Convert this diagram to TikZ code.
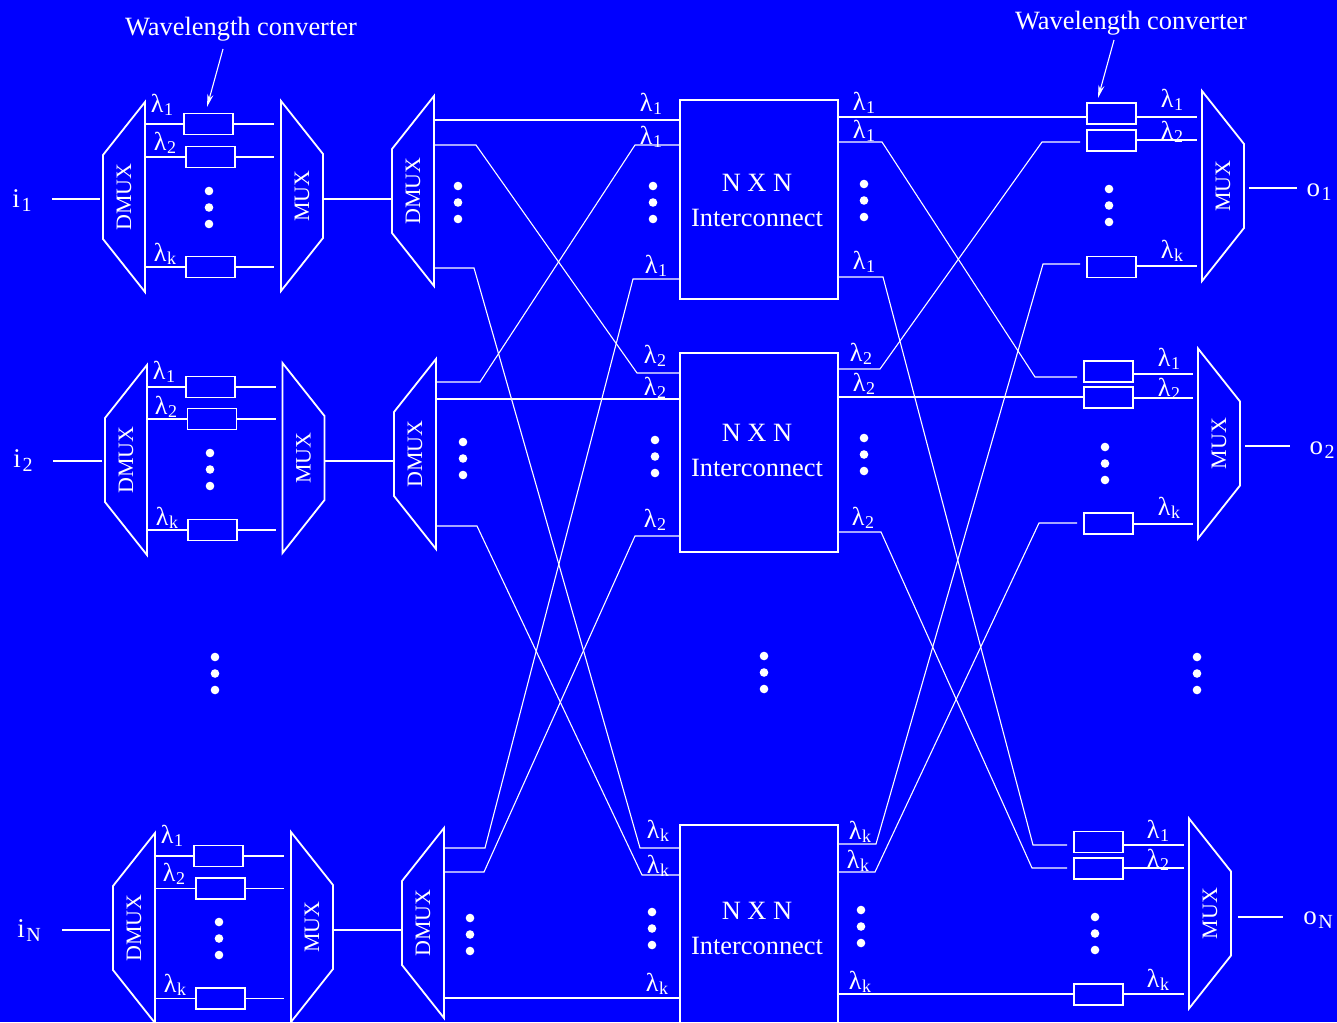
\documentclass[tikz,border=0pt]{standalone}
\usepackage{fontspec}
\setmainfont{Liberation Serif}
\usetikzlibrary{arrows.meta}
\definecolor{bgblue}{RGB}{0,0,255}
\newcommand\lamsub[1]{λ\kern0.5pt\raisebox{-3pt}{\fontsize{18}{18}\selectfont #1}}
\newcommand\isub[2]{#1\kern1.5pt\raisebox{-4pt}{\fontsize{20}{20}\selectfont #2}}
\tikzset{
 wire/.style={draw=white, line width=1.1pt},
 trap/.style={draw=white, line width=1.8pt, line join=miter},
 conv/.style={draw=white, line width=1.8pt, minimum width=49pt, minimum height=21pt, inner sep=0pt},
 ic/.style={draw=white, line width=1.6pt, minimum width=158pt, minimum height=199pt, inner sep=0pt},
 ictxt/.style={text=white, align=center, inner sep=0pt, font=\fontsize{26.4}{35}\selectfont},
 lab/.style={text=white, inner sep=0pt, font=\fontsize{26}{26}\selectfont},
 iolab/.style={text=white, inner sep=0pt, font=\fontsize{27}{27}\selectfont},
 devtxt/.style={text=white, inner sep=0pt, rotate=90, font=\fontsize{22}{22}\selectfont},
 wltxt/.style={text=white, inner sep=0pt, font=\fontsize{26.4}{26.4}\selectfont},
 pointer/.style={draw=white, line width=1.1pt, -{Stealth[length=13pt,width=6pt]}},
 dmuxpic/.pic={\draw[trap] (21,-95) -- (-21,-42) -- (-21,42) -- (21,95) -- cycle;
   \node[devtxt] (-t) at (0,0) {DMUX};
   \coordinate (-in) at (-21,0); \coordinate (-out) at (21,0);},
 muxpic/.pic={\draw[trap] (-21,-95) -- (21,-42) -- (21,42) -- (-21,95) -- cycle;
   \node[devtxt] (-t) at (0,0) {MUX};
   \coordinate (-in) at (-21,0); \coordinate (-out) at (21,0);},
}
\begin{document}
\begin{tikzpicture}[x=1pt,y=-1pt]
\useasboundingbox (0,0) rectangle (1337,1022);
\fill[bgblue] (0,0) rectangle (1337,1022);

% ---------- left input stages ----------
\pic (da1) at (124,197) {dmuxpic};
\pic (ma1) at (302,196) {muxpic};
\pic (db1) at (413,191) {dmuxpic};
\pic (da2) at (126,460) {dmuxpic};
\pic (ma2) at (303.5,458) {muxpic};
\pic (db2) at (415,454) {dmuxpic};
\pic (daN) at (134,928) {dmuxpic};
\pic (maN) at (312,927) {muxpic};
\pic (dbN) at (423,923) {dmuxpic};

\node[conv] (ca11) at (208.5,124) {};
\node[conv] (ca12) at (210.5,157) {};
\node[conv] (ca1k) at (210.5,267) {};
\node[conv] (ca21) at (210.5,387) {};
\node[conv] (ca22) at (212,419) {};
\node[conv] (ca2k) at (212.5,530) {};
\node[conv] (caN1) at (218.5,856) {};
\node[conv] (caN2) at (220.5,888.5) {};
\node[conv] (caNk) at (220.5,998.5) {};

\foreach \r in {1,2,N}{
  \foreach \c in {1,2,k}{
    \draw[wire] (da\r-out |- ca\r\c) -- (ca\r\c);
    \draw[wire, shorten >=7pt] (ca\r\c) -- (ma\r-in |- ca\r\c);
  }
}

\coordinate (in1) at (52,199);
\coordinate (in2) at (53,461);
\coordinate (inN) at (62,930);
\draw[wire, shorten >=3pt] (in1) -- (da1-in |- in1);
\draw[wire, shorten >=3pt] (in2) -- (da2-in |- in2);
\draw[wire, shorten >=3pt] (inN) -- (daN-in |- inN);
\draw[wire] (ma1-out |- in1) -- (db1-in |- in1);
\draw[wire] (ma2-out |- in2) -- (db2-in |- in2);
\draw[wire] (maN-out |- inN) -- (dbN-in |- inN);

\node[iolab] (il1) at (22,201) {\isub{i}{1}};
\node[iolab] (il2) at (23,461) {\isub{i}{2}};
\node[iolab] (ilN) at (29,931) {\isub{i}{N}};

% ---------- interconnects ----------
\node[ic] (b1) at (759,199.5) {};
\node[ic] (b2) at (759,452.5) {};
\node[ic] (bN) at (759,924.5) {};
\node[ictxt] (t1) at (757,200) {N X N\\Interconnect};
\node[ictxt] (t2) at (757,450) {N X N\\Interconnect};
\node[ictxt] (tN) at (757,928) {N X N\\Interconnect};

% ports
\coordinate (db1o1) at (434,120);
\coordinate (db1o2) at (434,145);
\coordinate (db1ok) at (434,268);
\coordinate (db2o1) at (436,382);
\coordinate (db2o2) at (436,399);
\coordinate (db2ok) at (436,526);
\coordinate (dbNo1) at (444,848);
\coordinate (dbNo2) at (444,872);
\coordinate (dbNok) at (444,998);
\coordinate (b1i1) at (680,120);
\coordinate (b1i2) at (680,145);
\coordinate (b1i3) at (680,279);
\coordinate (b2i1) at (680,373);
\coordinate (b2i2) at (680,399);
\coordinate (b2i3) at (680,536);
\coordinate (bNi1) at (680,848);
\coordinate (bNi2) at (680,875);
\coordinate (bNi3) at (680,998);

\draw[wire] (db1o1) -- (b1i1);
\draw[wire] (db1o2) -- (476,145) -- (637,373) -- (b2i1);
\draw[wire] (db1ok) -- (474,268) -- (640,848) -- (bNi1);
\draw[wire] (db2o1) -- (480,382) -- (635,145) -- (b1i2);
\draw[wire] (db2o2) -- (b2i2);
\draw[wire] (db2ok) -- (477,526) -- (642,875) -- (bNi2);
\draw[wire] (dbNo1) -- (485,848) -- (633,279) -- (b1i3);
\draw[wire] (dbNo2) -- (484,872) -- (635,536) -- (b2i3);
\draw[wire] (dbNok) -- (bNi3);

% ---------- output stages ----------
\node[conv] (c11) at (1111.5,113.5) {};
\node[conv] (c12) at (1111.5,140.5) {};
\node[conv] (c1k) at (1111.5,267) {};
\node[conv] (c21) at (1108.5,371.5) {};
\node[conv] (c22) at (1108.5,397.5) {};
\node[conv] (c2k) at (1108.5,523.5) {};
\node[conv] (cN1) at (1098.5,842) {};
\node[conv] (cN2) at (1098.5,868.5) {};
\node[conv] (cNk) at (1098.5,994.5) {};

\coordinate (b1o1) at (838,117);
\coordinate (b1o2) at (838,142);
\coordinate (b1o3) at (838,277);
\coordinate (b2o1) at (838,369);
\coordinate (b2o2) at (838,397);
\coordinate (b2o3) at (838,532);
\coordinate (bNo1) at (838,844);
\coordinate (bNo2) at (838,872);
\coordinate (bNo3) at (838,994);

% bend points near the output converters
\coordinate (k11) at (1087,117);
\coordinate (k12) at (1042,142);
\coordinate (k1k) at (1043,264);
\coordinate (k21) at (1035,377);
\coordinate (k22) at (1084,397);
\coordinate (k2k) at (1039,523);
\coordinate (kN1) at (1033,845);
\coordinate (kN2) at (1032,868);
\coordinate (kNk) at (1074,994);

\draw[wire] (b1o1) -- (k11);
\draw[wire, shorten >=6pt] (b1o2) -- (882,142) -- (k21) -- (c21.west |- k21);
\draw[wire, shorten >=6pt] (b1o3) -- (883,277) -- (kN1) -- (cN1.west |- kN1);
\draw[wire, shorten >=6pt] (b2o1) -- (880,369) -- (k12) -- (c12.west |- k12);
\draw[wire] (b2o2) -- (k22);
\draw[wire, shorten >=6pt] (b2o3) -- (881,532) -- (kN2) -- (cN2.west |- kN2);
\draw[wire, shorten >=6pt] (bNo1) -- (876,844) -- (k1k) -- (c1k.west |- k1k);
\draw[wire, shorten >=6pt] (bNo2) -- (875,872) -- (k2k) -- (c2k.west |- k2k);
\draw[wire] (bNo3) -- (kNk);

\pic (mc1) at (1223,186) {muxpic};
\pic (mc2) at (1219,443.5) {muxpic};
\pic (mcN) at (1210,913.5) {muxpic};

\foreach \r/\c/\yy in {1/1/117, 1/2/140, 1/k/266, 2/1/374, 2/2/398, 2/k/524, N/1/845, N/2/868, N/k/994}{
    \draw[wire, shorten >=5pt] (c\r\c.east |- 0,\yy) -- (mc\r-in |- 0,\yy);
}

\coordinate (out1) at (1297,188);
\coordinate (out2) at (1290,446);
\coordinate (outN) at (1283,917);
\draw[wire, shorten <=5pt] (mc1-out |- out1) -- (out1);
\draw[wire, shorten <=5pt] (mc2-out |- out2) -- (out2);
\draw[wire, shorten <=7pt] (mcN-out |- outN) -- (outN);
\node[iolab] (ol1) at (1319,192) {\isub{o}{1}};
\node[iolab] (ol2) at (1322,450) {\isub{o}{2}};
\node[iolab] (olN) at (1318,920) {\isub{o}{N}};

% ---------- wavelength converter callouts ----------
\node[wltxt] (wl1) at (241,29) {Wavelength converter};
\node[wltxt] (wl2) at (1131,23) {Wavelength converter};
\coordinate (wl1a) at (223,49);
\coordinate (wl1b) at (207,107);
\coordinate (wl2a) at (1114,40);
\coordinate (wl2b) at (1098,98);
\draw[pointer] (wl1a) -- (wl1b);
\draw[pointer] (wl2a) -- (wl2b);

% ---------- wavelength labels ----------
\foreach \x/\y/\s [count=\n] in {
 162/105/1, 165/143/2, 165/254/k,
 164/372/1, 166/407/2, 167/518/k,
 172/836/1, 174/874/2, 175/985/k,
 651/104/1, 651/137/1, 656/266/1,
 655/356/2, 655/388/2, 655/520/2,
 658/831/k, 658/866/k, 657/984/k,
 864/103/1, 864/131/1, 864/262/1,
 861/354/2, 864/384/2, 863/518/2,
 860/832/k, 858/861/k, 860/982/k,
 1172/100/1, 1172/132/2, 1172/251/k,
 1169/359/1, 1169/389/2, 1169/508/k,
 1158/831/1, 1158/860/2, 1158/980/k}
 \node[lab] (lam\n) at (\x,\y) {\lamsub{\s}};

% ---------- ellipsis dots ----------
\foreach \x/\y in {209/191, 210/453, 219/922, 215/657, 458/186, 463/442, 470/918,
 653/186, 655/440, 652/912, 864/184, 864/438, 861/910, 764/656,
 1109/189, 1105/447, 1095/917, 1197/657}
 \foreach \d in {0,16.5,33}
  \fill[white] (\x,{\y+\d}) circle (4.3pt);
\end{tikzpicture}
\end{document}
